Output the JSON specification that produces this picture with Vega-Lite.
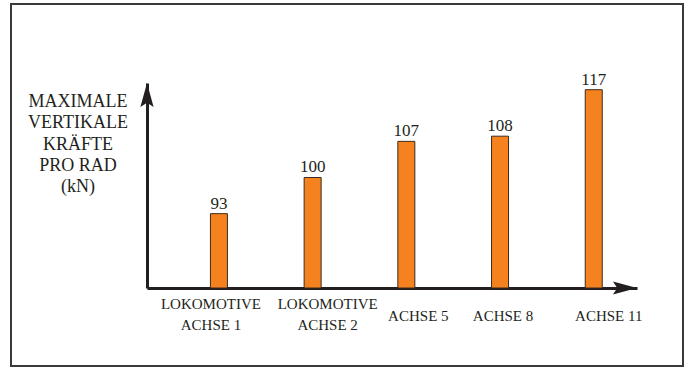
{
  "$schema": "https://vega.github.io/schema/vega-lite/v6.json",
  "width": 672,
  "height": 362,
  "autosize": {"type": "none"},
  "padding": {"left": 11, "top": 4, "right": 5, "bottom": 2},
  "background": "white",
  "config": {
    "view": {"stroke": "#3a3a3a", "strokeWidth": 2},
    "font": "Liberation Serif"
  },
  "layer": [
    {
      "data": {
        "values": [
          {"achse": "LOKOMOTIVE\nACHSE 1", "kN": 93},
          {"achse": "LOKOMOTIVE\nACHSE 2", "kN": 100},
          {"achse": "ACHSE 5", "kN": 107},
          {"achse": "ACHSE 8", "kN": 108},
          {"achse": "ACHSE 11", "kN": 117}
        ]
      },
      "encoding": {
        "x": {
          "field": "achse",
          "type": "nominal",
          "sort": null,
          "scale": {"range": [136, 626], "paddingInner": 0.8186, "paddingOuter": 0.524, "align": 0.646},
          "axis": {
            "title": null,
            "labelExpr": "split(datum.label, '\\n')",
            "labelAngle": 0,
            "labelFont": "Liberation Serif",
            "labelFontSize": 15,
            "labelColor": "#231f20",
            "labelBaseline": {"condition": {"test": "indexof(datum.value, '\\n') >= 0", "value": "alphabetic"}, "value": "top"},
            "labelOffset": {
              "condition": [
                {"test": "indexof(datum.value, 'ACHSE 2') >= 0", "value": 15},
                {"test": "indexof(datum.value, 'LOKOMOTIVE') >= 0", "value": -8},
                {"test": "datum.value == 'ACHSE 5'", "value": 12},
                {"test": "datum.value == 'ACHSE 8'", "value": 3}
              ],
              "value": 15
            },
            "labelLineHeight": 21,
            "labelPadding": 20,
            "labelOverlap": false,
            "labelFlush": false,
            "ticks": false,
            "tickSize": 0,
            "domainWidth": 3,
            "domainColor": "#231f20",
            "offset": -78,
            "grid": false
          }
        },
        "y": {
          "field": "kN",
          "type": "quantitative",
          "scale": {"domain": [78.6, 118.3], "range": [284, 79], "zero": false, "nice": false},
          "axis": {
            "title": ["MAXIMALE", "VERTIKALE", "KRÄFTE", "PRO RAD", "(kN)"],
            "titleAngle": 0,
            "titleAlign": "center",
            "titleBaseline": "alphabetic",
            "titleX": -69.5,
            "titleY": 102.7,
            "titleFont": "Liberation Serif",
            "titleFontSize": 18,
            "titleFontWeight": "normal",
            "titleColor": "#231f20",
            "titleLineHeight": 21.25,
            "labels": false,
            "ticks": false,
            "tickSize": 0,
            "domainWidth": 3,
            "domainColor": "#231f20",
            "offset": -136,
            "grid": false
          }
        }
      },
      "layer": [
        {
          "mark": {"type": "bar", "fill": "#f5821f", "stroke": "#3b2a1c", "strokeWidth": 1},
          "encoding": {"y2": {"datum": 78.6}}
        },
        {
          "mark": {"type": "text", "baseline": "alphabetic", "align": "center", "dy": -5, "fontSize": 17, "font": "Liberation Serif", "color": "#231f20"},
          "encoding": {"text": {"field": "kN", "type": "quantitative"}}
        }
      ]
    },
    {
      "data": {"values": [{}]},
      "mark": {"type": "point", "shape": "M0,0L-0.55,2L0,1.65L0.55,2Z", "size": 576, "filled": true, "color": "#231f20", "opacity": 1, "strokeWidth": 0},
      "encoding": {
        "x": {"datum": 0, "type": "quantitative", "scale": {"domain": [0, 1], "range": [136, 626]}, "axis": null},
        "y": {"datum": 1, "type": "quantitative", "scale": {"domain": [0, 1], "range": [284, 79]}, "axis": null}
      }
    },
    {
      "data": {"values": [{}]},
      "mark": {"type": "point", "shape": "M0,0L-2,-0.55L-1.65,0L-2,0.55Z", "size": 576, "filled": true, "color": "#231f20", "opacity": 1, "strokeWidth": 0},
      "encoding": {
        "x": {"datum": 1, "type": "quantitative", "scale": {"domain": [0, 1], "range": [136, 626]}, "axis": null},
        "y": {"datum": 0, "type": "quantitative", "scale": {"domain": [0, 1], "range": [284, 79]}, "axis": null}
      }
    }
  ],
  "resolve": {
    "scale": {"x": "independent", "y": "independent"},
    "axis": {"x": "independent", "y": "independent"}
  }
}
